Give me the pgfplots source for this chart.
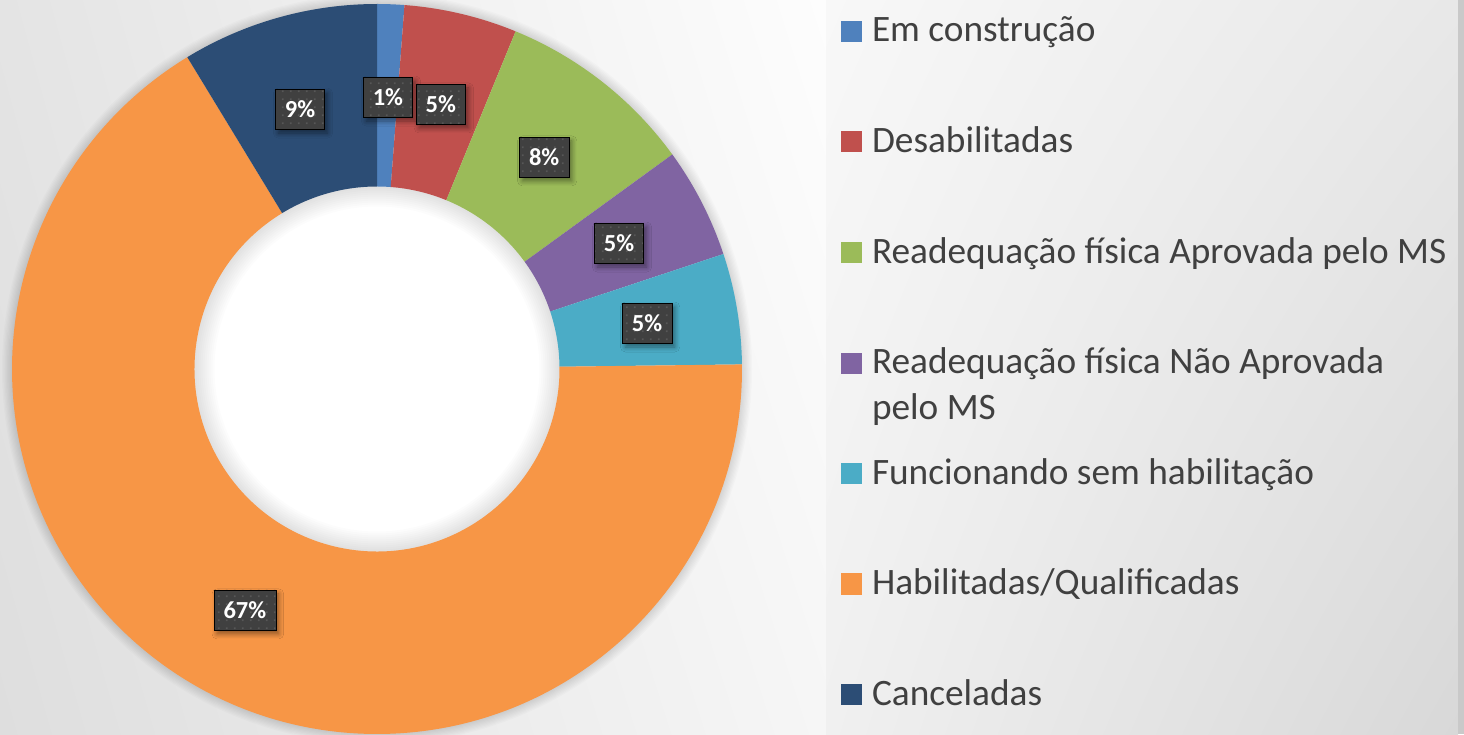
\documentclass[border=0pt]{standalone}
\usepackage{fontspec}
\setmainfont{Carlito}
\usepackage{pgfplots}
\pgfplotsset{compat=1.18}
\usetikzlibrary{shadows,shadows.blur,shadings,patterns.meta}
\definecolor{cA}{HTML}{4F81BD}
\definecolor{cB}{HTML}{C0504D}
\definecolor{cC}{HTML}{9BBB59}
\definecolor{cD}{HTML}{8064A2}
\definecolor{cE}{HTML}{4BACC6}
\definecolor{cF}{HTML}{F79646}
\definecolor{cG}{HTML}{2C4D75}
\definecolor{lbl}{HTML}{404040}
\definecolor{lbldot}{HTML}{575757}
\definecolor{legtxt}{HTML}{404040}
\definecolor{bgA}{RGB}{228,228,228}
\definecolor{bgB}{RGB}{253,253,253}
\definecolor{bgC}{RGB}{222,222,222}
\definecolor{bgD}{RGB}{246,246,246}
\definecolor{rpA}{RGB}{248,248,248}
\definecolor{rpB}{RGB}{232,232,232}
\definecolor{rpC}{RGB}{240,240,240}
\definecolor{rpD}{RGB}{216,216,216}
\tikzdeclarepattern{
  name=lbldots,
  type=uncolored,
  bounding box={(0pt,0pt) and (8pt,8pt)},
  tile size={(8pt,8pt)},
  code={\pgfpathrectangle{\pgfpoint{2pt}{2pt}}{\pgfpoint{2pt}{2pt}}\pgfusepath{fill}}
}
\def\splitslice#1/#2\relax{\def\sv{#1}\def\sc{#2}}
\begin{document}
\begin{tikzpicture}[x=1pt,y=1pt]
\useasboundingbox (0,0) rectangle (1464,734);
% backgrounds
\shade[shading=bilinear interpolation, upper left=bgA, upper right=bgB, lower left=bgC, lower right=bgD]
  (0,0) rectangle (826,734);
\shade[shading=bilinear interpolation, upper left=rpA, upper right=rpB, lower left=rpC, lower right=rpD]
  (826,0) rectangle (1458,734);
\fill[black!21] (1458,0) rectangle (1464,734);
% soft shadow around ring
\foreach \k in {1,...,8} \draw[black, opacity=0.016, line width=\k*2.5pt] (377,365) circle (365);
\fill[white] (377,365) circle (183);
\foreach \k in {1,...,10} \draw[black, opacity=0.011, line width=\k*4pt] (377,365) circle (182.5);
\begin{axis}[
  at={(377pt,365pt)}, anchor=center,
  scale only axis, width=730pt, height=730pt,
  xmin=-1, xmax=1, ymin=-1, ymax=1,
  hide axis, clip=false,
  legend style={at={(axis description cs:1.13562,0.98904)}, anchor=north west,
    draw=none, fill=none, inner sep=0pt, outer sep=0pt,
    row sep=70.5pt, column sep=10pt,
    font=\fontsize{37.3}{46}\selectfont,
    cells={anchor=base west},
    nodes={inner sep=0pt, text height=30pt, text depth=10pt, text=legtxt}},
  legend image code/.code={\path[#1] (0pt,0pt) rectangle (21pt,21pt);},
]
\def\cum{0}
\pgfplotsforeachungrouped \item in {1.2/cA,5.0/cB,8.8/cC,4.9/cD,4.9/cE,66.5/cF,8.7/cG}{%
  \expandafter\splitslice\item\relax
  \pgfmathsetmacro\sa{90-3.6*\cum}%
  \pgfmathsetmacro\sb{90-3.6*(\cum+\sv)}%
  \edef\temp{\noexpand\fill[\sc] (axis cs:{cos(\sa)},{sin(\sa)}) arc[start angle=\sa, end angle=\sb, radius=365pt] -- (axis cs:{0.5*cos(\sb)},{0.5*sin(\sb)}) arc[start angle=\sb, end angle=\sa, radius=182.5pt] -- cycle;}%
  \temp
  \pgfmathsetmacro\cum{\cum+\sv}%
}
\addlegendimage{fill=cA, draw=none}
\addlegendentry{Em construção}
\addlegendimage{fill=cB, draw=none}
\addlegendentry{Desabilitadas}
\addlegendimage{fill=cC, draw=none}
\addlegendentry{Readequação física Aprovada pelo MS}
\addlegendimage{fill=cD, draw=none}
\addlegendentry{\begin{tabular}[t]{@{}l@{}}Readequação física Não Aprovada\\pelo MS\end{tabular}}
\addlegendimage{fill=cE, draw=none}
\addlegendentry{Funcionando sem habilitação}
\addlegendimage{fill=cF, draw=none}
\addlegendentry{Habilitadas/Qualificadas}
\addlegendimage{fill=cG, draw=none}
\addlegendentry{Canceladas}
\addplot[forget plot, only marks, mark=none, point meta=explicit symbolic,
  nodes near coords={\pgfplotspointmeta\%},
  every node near coord/.append style={anchor=center, font=\bfseries\fontsize{24.5}{28}\selectfont,
    text=white, fill=lbl, inner xsep=9.5pt, inner ysep=0pt, minimum height=40pt,
    blur shadow={shadow xshift=3pt, shadow yshift=-4pt, shadow blur steps=8, shadow blur radius=5pt, shadow opacity=45},
    postaction={pattern=lbldots, pattern color=lbldot}}]
  table[meta=p]{
x y p
0.030 0.745 1
0.175 0.726 5
0.458 0.581 8
0.663 0.345 5
0.740 0.126 5
-0.362 -0.660 67
-0.211 0.712 9
};
\end{axis}
\end{tikzpicture}
\end{document}
